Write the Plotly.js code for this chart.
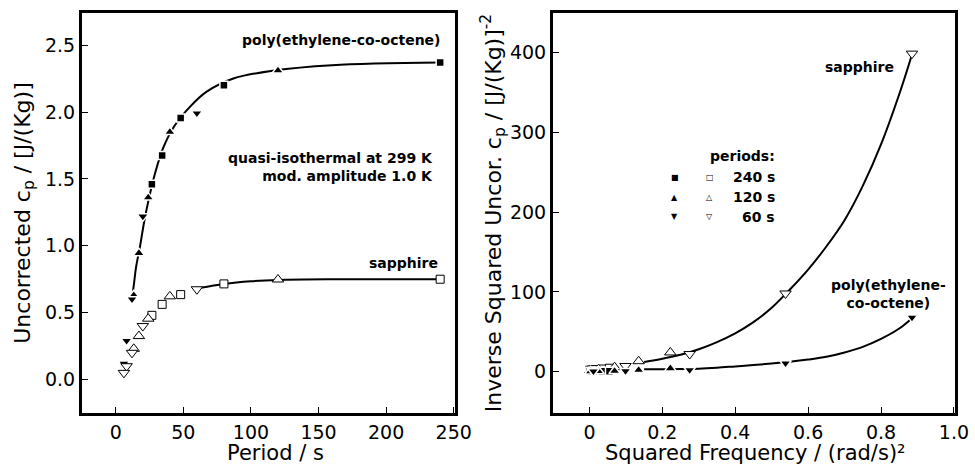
<!DOCTYPE html>
<html><head><meta charset="utf-8">
<script src="https://cdn.plot.ly/plotly-3.0.1.min.js"></script>
<style>body{margin:0;background:#fff}</style>
</head><body><div id="chart" style="width:975px;height:465px"></div>
<script>
// ---------- Left panel: uncorrected cp vs period ----------
const periodSq = [240, 80, 48, 34.3, 26.7];   // 240 s family
const periodUp = [120, 40, 24, 17.1, 13.3];   // 120 s family
const periodDn = [60, 20, 12, 8.0, 6.0];      // 60 s family
const polyCpSq = [2.37, 2.20, 1.955, 1.675, 1.46];
const polyCpUp = [2.31, 1.85, 1.36, 0.945, 0.63];
const polyCpDn = [1.99, 1.22, 0.60, 0.29, 0.12];
const sapCpSq  = [0.75, 0.715, 0.635, 0.562, 0.48];
const sapCpUp  = [0.748, 0.622, 0.455, 0.325, 0.23];
const sapCpDn  = [0.675, 0.40, 0.20, 0.10, 0.05];
// fitted curves
const polyFitP  = [12, 13.5, 15, 18, 21, 24, 29, 35, 43, 55, 67, 87, 117, 160, 240];
const polyFitCp = [0.60, 0.72, 0.84, 1.00, 1.18, 1.33, 1.54, 1.73, 1.89, 2.04, 2.15, 2.25, 2.31, 2.35, 2.37];
const sapFitP   = [62, 80, 100, 120, 160, 240];
const sapFitCp  = [0.685, 0.715, 0.735, 0.745, 0.75, 0.75];

// ---------- Right panel: inverse squared cp vs squared frequency ----------
const freqSq = [0.001, 0.006, 0.017, 0.034, 0.055];
const freqUp = [0.003, 0.025, 0.069, 0.135, 0.222];
const freqDn = [0.011, 0.099, 0.275, 0.538, 0.885];
const polyInvSq = [0.2, 0.2, 0.3, 0.4, 0.5];
const polyInvUp = [0.2, 0.3, 0.6, 2, 4];
const polyInvDn = [0.3, 0.7, 2, 10.5, 68];
const sapInvSq  = [1.8, 2.0, 2.5, 3.2, 4.2];
const sapInvUp  = [1.8, 2.6, 5.5, 13, 24];
const sapInvDn  = [2.2, 7, 22, 98, 399];
const fitX     = [0.15, 0.2, 0.25, 0.3, 0.35, 0.4, 0.45, 0.5, 0.55, 0.6, 0.65, 0.7, 0.75, 0.8, 0.85, 0.885];
const sapFitY  = [12, 16, 21, 28, 37, 48, 62, 80, 103, 128, 157, 190, 233, 285, 348, 398];
const polyFitY = [3, 3, 3.1, 3.6, 4.8, 6.5, 8.2, 10, 12.2, 15, 18.5, 24, 31, 41, 54, 67];

const xTicksL = [0, 50, 100, 150, 200, 250];
const yTicksL = [0, 0.5, 1, 1.5, 2, 2.5];
const yTickTextL = ['0.0', '0.5', '1.0', '1.5', '2.0', '2.5'];
const xTicksR = [0, 0.2, 0.4, 0.6, 0.8, 1.0];
const xTickTextR = ['0', '0.2', '0.4', '0.6', '0.8', '1.0'];
const yTicksR = [0, 100, 200, 300, 400];

const legendRows = ['240 s', '120 s', '60 s'];
const legendFilled = ['■', '▲', '▼'];
const legendOpen = ['□', '△', '▽'];
const legendY = [244, 219, 194];

const FONT = 'DejaVu Sans';
const line = (x, y, xa, ya) => ({x, y, xaxis: xa, yaxis: ya, mode: 'lines', type: 'scatter',
  line: {color: 'black', width: 2, shape: 'spline', smoothing: 1}, hoverinfo: 'skip'});
const filled = (x, y, sym, size, xa, ya) => ({x, y, xaxis: xa, yaxis: ya, mode: 'markers', type: 'scatter',
  marker: {symbol: sym, size: size, color: 'black', line: {color: 'white', width: 1.5}}});
const open = (x, y, sym, size, xa, ya) => ({x, y, xaxis: xa, yaxis: ya, mode: 'markers', type: 'scatter',
  marker: {symbol: sym, size: size, color: 'white', line: {color: 'black', width: 1}}});

const data = [
  line(polyFitP, polyFitCp, 'x', 'y'),
  line(sapFitP, sapFitCp, 'x', 'y'),
  filled(periodSq, polyCpSq, 'square', 8, 'x', 'y'),
  filled(periodUp, polyCpUp, 'triangle-up', 10, 'x', 'y'),
  filled(periodDn, polyCpDn, 'triangle-down', 10, 'x', 'y'),
  open(periodSq, sapCpSq, 'square', 8, 'x', 'y'),
  open(periodUp, sapCpUp, 'triangle-up', 10, 'x', 'y'),
  open(periodDn, sapCpDn, 'triangle-down', 10, 'x', 'y'),
  line(fitX, sapFitY, 'x2', 'y2'),
  line(fitX, polyFitY, 'x2', 'y2'),
  open(freqSq, sapInvSq, 'square', 8, 'x2', 'y2'),
  open(freqUp, sapInvUp, 'triangle-up', 10, 'x2', 'y2'),
  open(freqDn, sapInvDn, 'triangle-down', 10, 'x2', 'y2'),
  filled(freqSq, polyInvSq, 'square', 8, 'x2', 'y2'),
  filled(freqUp, polyInvUp, 'triangle-up', 10, 'x2', 'y2'),
  filled(freqDn, polyInvDn, 'triangle-down', 10, 'x2', 'y2')
];

const axisBase = {showline: true, mirror: true, linewidth: 3, linecolor: 'black',
  ticks: 'inside', ticklen: 6, tickwidth: 1, tickcolor: 'black', showgrid: false, zeroline: false,
  tickfont: {family: FONT, size: 19, color: 'black'}};

const ann = (text, x, y, xref, yref, xanchor, extra) => Object.assign({text, x, y, xref, yref,
  xanchor, yanchor: 'middle', showarrow: false, align: xanchor === 'center' ? 'center' : xanchor,
  font: {family: FONT, size: 14, color: 'black'}}, extra || {});

const annotations = [
  ann('<b>poly(ethylene-co-octene)</b>', 242, 2.54, 'x', 'y', 'right'),
  ann('<b>quasi-isothermal at 299 K<br>mod. amplitude 1.0 K</b>', 236, 1.59, 'x', 'y', 'right'),
  ann('<b>sapphire</b>', 240, 0.87, 'x', 'y', 'right'),
  ann('<b>sapphire</b>', 0.842, 382, 'x2', 'y2', 'right'),
  ann('<b>poly(ethylene-<br>co-octene)</b>', 0.82, 97, 'x2', 'y2', 'center'),
  ann('<b>periods:</b>', 0.514, 271, 'x2', 'y2', 'right'),
  // x-axis titles
  ann('Period / s', 118, -0.1325, 'x', 'paper', 'center', {yanchor: 'bottom', borderpad: 0, font: {family: FONT, size: 21, color: 'black'}}),
  ann('Squared Frequency / (rad/s)²', 0.457, -0.1325, 'x2', 'paper', 'center', {yanchor: 'bottom', borderpad: 0, font: {family: FONT, size: 21, color: 'black'}})
];
legendRows.forEach((t, i) => {
  annotations.push(ann('<b>' + t + '</b>', 0.514, legendY[i], 'x2', 'y2', 'right'));
  annotations.push(ann(legendFilled[i], 0.234, legendY[i], 'x2', 'y2', 'center', {font: {family: FONT, size: 8, color: 'black'}}));
  annotations.push(ann(legendOpen[i], 0.330, legendY[i], 'x2', 'y2', 'center', {font: {family: FONT, size: 8, color: 'black'}}));
});

const layout = {
  width: 975, height: 465, showlegend: false,
  paper_bgcolor: 'white', plot_bgcolor: 'white',
  margin: {l: 82, r: 20, t: 13, b: 52},
  font: {family: FONT, color: 'black'},
  xaxis: Object.assign({}, axisBase, {domain: [0, 0.4273], range: [-25, 251], tickvals: xTicksL}),
  yaxis: Object.assign({}, axisBase, {domain: [0, 1], range: [-0.25, 2.74],
    tickvals: yTicksL, ticktext: yTickTextL,
    title: {text: 'Uncorrected c<sub>p</sub> / [J/(Kg)]', font: {family: FONT, size: 22}, standoff: 9}}),
  xaxis2: Object.assign({}, axisBase, {domain: [0.5395, 1], range: [-0.1, 1.003], anchor: 'y2',
    tickvals: xTicksR, ticktext: xTickTextR}),
  yaxis2: Object.assign({}, axisBase, {domain: [0, 1], range: [-52, 450], anchor: 'x2',
    tickvals: yTicksR,
    title: {text: 'Inverse Squared Uncor. c<sub>p</sub> / [J/(Kg)]<sup>-2</sup>', font: {family: FONT, size: 22}, standoff: 3}}),
  annotations: annotations
};

Plotly.newPlot('chart', data, layout, {displayModeBar: false, staticPlot: true});
</script>
</body></html>
